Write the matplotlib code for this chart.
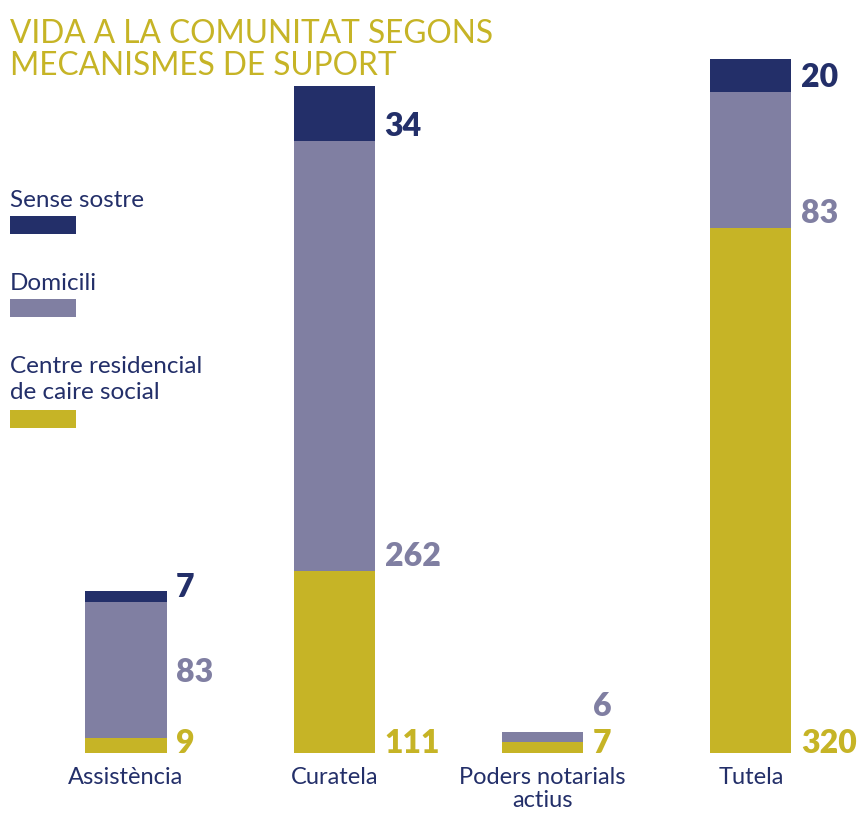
import matplotlib
matplotlib.use("Agg")
import matplotlib.pyplot as plt
from matplotlib.patches import Rectangle

categories = ["Assistència", "Curatela", "Poders notarials\nactius", "Tutela"]
series = ["Centre residencial\nde caire social", "Domicili", "Sense sostre"]
residencial = [9, 111, 7, 320]
domicili = [83, 262, 6, 83]
sense_sostre = [7, 34, 0, 20]

navy = "#232F69"
purple = "#807FA2"
yellow = "#C6B426"
colors = [yellow, purple, navy]
font = "Lato"

fig = plt.figure(figsize=(8.59, 8.16), dpi=100)
W, H = 859, 816
ax = fig.add_axes([0, (H - 753) / H, 1, 740 / H])

x = list(range(len(categories)))
step = 208.33
ax.set_xlim(-126 / step, (W - 126) / step)
px = 1.64  # pixels per unit, leaves room for the title
ax.set_ylim(0, 740 / px)
ax.axis("off")

width = 81 / step
values = [residencial, domicili, sense_sostre]
bottoms = [0] * len(categories)
last_label = [None] * len(categories)
for vals, col in zip(values, colors):
    ax.bar(x, vals, width=width, bottom=bottoms, color=col, linewidth=0)
    for i, v in enumerate(vals):
        if v == 0:
            continue
        y = bottoms[i] * px + (5 if bottoms[i] > 0 else 0)
        if last_label[i] is not None and y - last_label[i] < 37:
            if v * px > 60:
                y = bottoms[i] * px + v * px / 2 - 12
            else:
                y = last_label[i] + 37
        last_label[i] = y
        ax.annotate(str(v), xy=(x[i] + width / 2, 0), xytext=(7, y * 0.72),
                    textcoords="offset points", ha="left", va="baseline",
                    color=col, fontsize=23, fontweight="heavy", family=font)
    bottoms = [b + v for b, v in zip(bottoms, vals)]

for i, c in enumerate(categories):
    ax.annotate(c, xy=(x[i], 0), xytext=(0, -10), textcoords="offset points",
                ha="center", va="top", color=navy, fontsize=17, family=font,
                linespacing=1.1, annotation_clip=False)

fig.text(10 / W, 1 - 19 / H, "VIDA A LA COMUNITAT SEGONS\nMECANISMES DE SUPORT",
         ha="left", va="top", color=yellow, fontsize=22.8, fontweight="normal",
         family=font, linespacing=1.08, zorder=5)

# legend
leg_text_y = [207, 290, 373]
leg_box_y = [216, 299, 410]
for name, col, ty, by in zip(series[::-1], colors[::-1], leg_text_y, leg_box_y):
    fig.text(10 / W, 1 - ty / H, name.split("\n")[0], ha="left", va="baseline",
             color=navy, fontsize=17.5, family=font)
    if "\n" in name:
        fig.text(10 / W, 1 - (ty + 26) / H, name.split("\n")[1], ha="left",
                 va="baseline", color=navy, fontsize=17.5, family=font)
    fig.patches.append(Rectangle((10 / W, 1 - (by + 18) / H), 66 / W, 18 / H,
                                 transform=fig.transFigure, color=col, linewidth=0))

fig.savefig("out.png", dpi=100)
